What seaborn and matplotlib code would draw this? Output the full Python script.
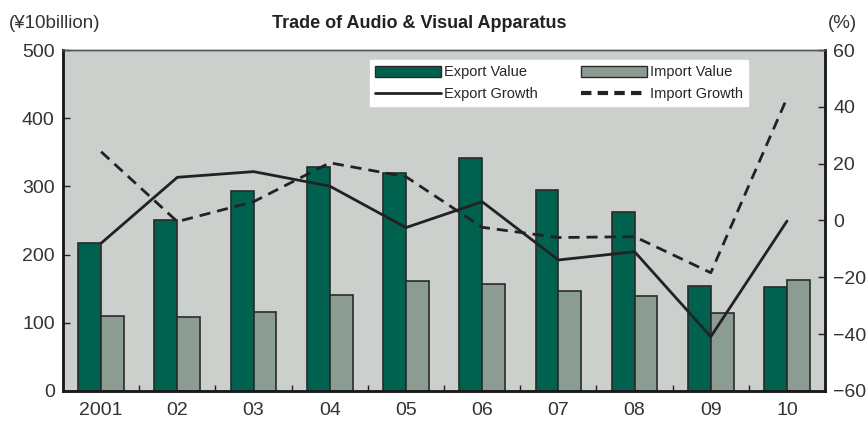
import numpy as np
import pandas as pd
import seaborn as sns
import matplotlib.pyplot as plt
from matplotlib.patches import Patch
from matplotlib.lines import Line2D

years = ["2001", "02", "03", "04", "05", "06", "07", "08", "09", "10"]
export_value = [217, 251, 293, 329, 320, 341, 294, 263, 154, 153]
import_value = [110, 109, 116, 140, 161, 157, 147, 139, 114, 163]
export_growth = [-8.0, 15.2, 17.2, 12.1, -2.5, 6.6, -13.9, -11.0, -40.9, -0.2]
import_growth = [24.2, -0.4, 6.6, 20.3, 15.4, -2.4, -6.0, -5.7, -18.4, 43.1]

sns.set_theme(style="ticks")
plt.rcParams["font.family"] = ["Liberation Sans", "DejaVu Sans"]

bars = pd.DataFrame({
    "year": years * 2,
    "value": export_value + import_value,
    "kind": ["Export Value"] * len(years) + ["Import Value"] * len(years),
})
lines = pd.DataFrame({
    "pos": np.arange(len(years)),
    "Export Growth": export_growth,
    "Import Growth": import_growth,
})

fig = plt.figure(figsize=(8.67, 4.24), dpi=100)
ax = fig.add_axes([0.0727, 0.078, 0.879, 0.804])
ax.set_facecolor("#cbd0cc")

sns.barplot(data=bars, x="year", y="value", hue="kind", ax=ax, width=0.6,
            palette=["#00614f", "#8b9c93"], edgecolor="#2a2a2a", linewidth=1.2,
            saturation=1, legend=False)

ax2 = ax.twinx()
sns.lineplot(data=lines, x="pos", y="Export Growth", ax=ax2, color="#222222",
             linewidth=2.0)
sns.lineplot(data=lines, x="pos", y="Import Growth", ax=ax2, color="#222222",
             linewidth=2.0, linestyle=(0, (4, 2.5)))

ax.set_xlim(-0.5, len(years) - 0.5)
ax.set_ylim(0, 500)
ax.set_yticks(range(0, 501, 100))
ax2.set_ylim(-60, 60)
ax2.set_yticks(range(-60, 61, 20))
ax.set_xlabel("")
ax.set_ylabel("")
ax2.set_ylabel("")

ax.set_xticks(np.arange(len(years)))
ax.set_xticklabels(years)
ax.set_xticks(np.arange(len(years) - 1) + 0.5, minor=True)
ax.tick_params(axis="x", which="major", length=0, pad=8, labelsize=14, labelcolor="#333333")
ax.tick_params(axis="x", which="minor", direction="in", length=4, width=1, color="#222222")
ax.tick_params(axis="y", direction="in", length=5, width=1, labelsize=14,
               labelcolor="#333333", color="#222222", pad=6)
ax2.tick_params(axis="y", direction="in", length=5, width=1, labelsize=14,
                labelcolor="#333333", color="#222222", pad=6)

for a in (ax, ax2):
    for s in ("left", "bottom", "right"):
        a.spines[s].set_linewidth(1.8)
        a.spines[s].set_color("#1a1a1a")
    a.spines["top"].set_linewidth(1.0)
    a.spines["top"].set_color("#555555")

handles = [
    Patch(facecolor="#00614f", edgecolor="#2a2a2a", label="Export Value"),
    Line2D([], [], color="#222222", linewidth=2.0, label="Export Growth"),
    Patch(facecolor="#8b9c93", edgecolor="#2a2a2a", label="Import Value"),
    Line2D([], [], color="#222222", linewidth=3.0, linestyle=(0, (2.5, 1.5)), label="Import Growth"),
]
leg = ax2.legend(handles=handles, ncol=2, loc="upper left", bbox_to_anchor=(0.403, 0.97),
                 frameon=True, fancybox=False, fontsize=10.5, handlelength=4.5,
                 handleheight=0.8, handletextpad=0.2, columnspacing=3.0,
                 labelspacing=0.55, borderpad=0.35, borderaxespad=0)
leg.get_frame().set_facecolor("white")
leg.get_frame().set_edgecolor("white")
leg.get_frame().set_alpha(1)

fig.text(0.484, 0.945, "Trade of Audio & Visual Apparatus", ha="center", va="center",
         fontsize=13, fontweight="bold", color="#222222")
fig.text(0.01, 0.945, "(¥10billion)", ha="left", va="center", fontsize=13.5, color="#333333")
fig.text(0.955, 0.945, "(%)", ha="left", va="center", fontsize=13.5, color="#333333")

fig.savefig("out.png", dpi=100)
